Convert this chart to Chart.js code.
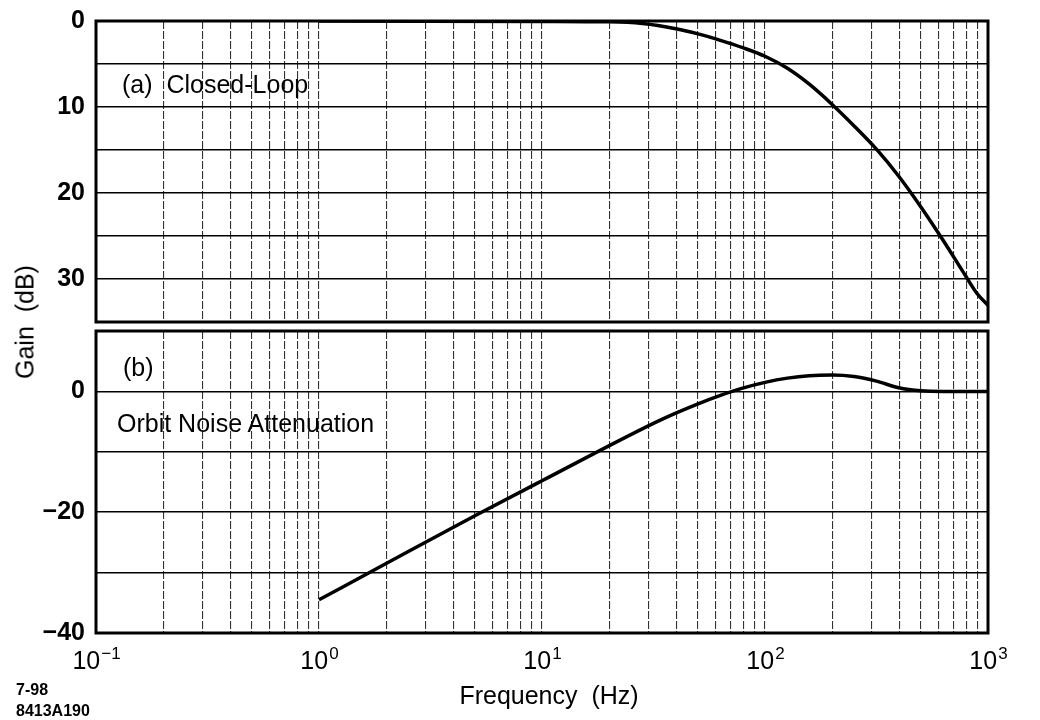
<!DOCTYPE html>
<html>
<head>
<meta charset="utf-8">
<title>Closed-Loop Gain and Orbit Noise Attenuation</title>
<script src="https://cdn.jsdelivr.net/npm/chart.js@4/dist/chart.umd.min.js"></script>
<style>
  html, body { margin: 0; padding: 0; background: #fff; }
  #wrap { position: relative; width: 1040px; height: 720px; overflow: hidden;
          font-family: "Liberation Sans", Arial, Helvetica, sans-serif; color: #000; }
  canvas { position: absolute; left: 0; }
  #cTop { top: 0; }
  #cBot { top: 326px; }
  .lbl { position: absolute; white-space: pre; line-height: 25px; font-size: 25px; z-index: 2; }
  .small { position: absolute; white-space: pre; font-size: 16px; font-weight: bold; line-height: 16px; }
</style>
</head>
<body>
<div id="wrap">
  <canvas id="cTop" width="1040" height="326"></canvas>
  <canvas id="cBot" width="1040" height="394"></canvas>
  <div class="lbl" style="left:122px; top:72px;">(a)  Closed-Loop</div>
  <div class="lbl" style="left:123px; top:355px;">(b)</div>
  <div class="lbl" style="left:117px; top:411px;">Orbit Noise Attenuation</div>
  <div class="lbl" style="left:25px; top:322px; transform: translate(-50%,-50%) rotate(-90deg);">Gain  (dB)</div>
  <div class="lbl" style="left:549px; top:683px; transform: translateX(-50%);">Frequency  (Hz)</div>
  <div class="small" style="left:16px; top:682px;">7-98</div>
  <div class="small" style="left:16px; top:703px;">8413A190</div>
</div>
<script>
// Frequency axis (Hz)
const freqMin = 0.1;
const freqMax = 1000;
const decadeExponents = [-1, 0, 1, 2, 3];

// (a) closed-loop response, dB below 0 (axis runs downward)
const freqClosedLoop = [1, 3, 10, 20, 28.2, 39.8, 50.1, 63.1, 79.4, 100, 126, 158, 200, 251, 316, 398, 501, 631, 794, 891, 1000];
const gainClosedLoop = [0, 0.02, 0.05, 0.1, 0.3, 0.9, 1.5, 2.25, 3.1, 4.1, 5.5, 7.35, 9.7, 12.2, 14.9, 18.05, 21.65, 25.55, 29.65, 31.65, 33.05];

// (b) orbit noise attenuation, dB
const freqNoiseAtten = [1, 2, 5, 10, 31.6, 39.8, 50.1, 63.1, 79.4, 100, 126, 158, 200, 251, 316, 398, 501, 631, 1000];
const gainNoiseAtten = [-34.5, -28.5, -20.6, -14.8, -5.3, -3.6, -2.05, -0.65, 0.55, 1.5, 2.2, 2.6, 2.7, 2.45, 1.7, 0.6, 0.1, 0, 0];

// Y axis ticks
const topTicks = [0, 5, 10, 15, 20, 25, 30, 35];
const topLabels = [0, 10, 20, 30];
const botTicks = [-40, -30, -20, -10, 0, 10];
const botLabels = [-40, -20, 0];

const FONT = '"Liberation Sans", Arial, Helvetica, sans-serif';

// 1..9 in every decade for the log grid
function logGridValues() {
  const vals = [];
  for (let e = -1; e < 3; e++) {
    for (let m = 1; m <= 9; m++) vals.push(+(m * Math.pow(10, e)).toPrecision(3));
  }
  vals.push(freqMax);
  return vals;
}
const xGrid = logGridValues();

function points(xs, ys) { return xs.map((x, i) => ({ x: x, y: ys[i] })); }

function noPadding(s) {
  s.paddingTop = 0; s.paddingBottom = 0; s.paddingLeft = 0; s.paddingRight = 0;
}

const framePlugin = {
  id: 'frame',
  afterDatasetsDraw(chart) {
    const { ctx, chartArea: a } = chart;
    ctx.save();
    ctx.strokeStyle = '#000';
    ctx.lineWidth = 3;
    ctx.strokeRect(a.left, a.top, a.right - a.left, a.bottom - a.top);
    ctx.restore();
  }
};

// "10" with a raised exponent under each decade
const decadeLabelPlugin = {
  id: 'decadeLabels',
  afterDraw(chart) {
    const ctx = chart.ctx;
    const xs = chart.scales.x;
    const y0 = chart.chartArea.bottom + 36;
    ctx.save();
    ctx.fillStyle = '#000';
    ctx.textBaseline = 'alphabetic';
    ctx.textAlign = 'left';
    decadeExponents.forEach(e => {
      const px = xs.getPixelForValue(Math.pow(10, e));
      const base = '10';
      const sup = e < 0 ? '\u2212' + Math.abs(e) : String(e);
      ctx.font = '25px ' + FONT;
      const w1 = ctx.measureText(base).width;
      ctx.font = '17px ' + FONT;
      const w2 = ctx.measureText(sup).width;
      const start = px - (w1 + w2) / 2;
      ctx.font = '25px ' + FONT;
      ctx.fillText(base, start, y0);
      ctx.font = '17px ' + FONT;
      ctx.fillText(sup, start + w1 + 1, y0 - 10);
    });
    ctx.restore();
  }
};

function xScale(hide) {
  return {
    type: 'logarithmic',
    min: freqMin,
    max: freqMax,
    afterBuildTicks: s => { s.ticks = xGrid.map(v => ({ value: v })); },
    ticks: { display: false, autoSkip: false },
    grid: { drawTicks: false, color: 'rgba(0,0,0,0.8)', lineWidth: 1.1 },
    border: { display: false, dash: [8, 2] },
    afterFit: s => { s.height = hide ? 0 : 87; noPadding(s); }
  };
}

function yScale(opts) {
  return {
    type: 'linear',
    min: opts.min,
    max: opts.max,
    reverse: !!opts.reverse,
    afterBuildTicks: s => { s.ticks = opts.ticks.map(v => ({ value: v })); },
    ticks: {
      autoSkip: false,
      padding: 11,
      color: '#000',
      font: { family: FONT, size: 25, weight: 'bold' },
      callback: v => opts.labels.includes(v) ? (v < 0 ? '\u2212' + Math.abs(v) : String(v)) : ''
    },
    grid: { drawTicks: false, color: '#000', lineWidth: 1.6 },
    border: { display: false },
    afterFit: s => { s.width = 96; noPadding(s); }
  };
}

function lineDataset(xs, ys) {
  return {
    data: points(xs, ys),
    borderColor: '#000',
    borderWidth: 3.5,
    pointRadius: 0,
    fill: false,
    cubicInterpolationMode: 'monotone'
  };
}

const common = {
  responsive: false,
  animation: false,
  events: [],
  plugins: { legend: { display: false }, tooltip: { enabled: false } }
};

new Chart(document.getElementById('cTop'), {
  type: 'line',
  data: { datasets: [lineDataset(freqClosedLoop, gainClosedLoop)] },
  options: Object.assign({}, common, {
    layout: { padding: { top: 21, right: 52, bottom: 4, left: 0 } },
    scales: {
      x: xScale(true),
      y: yScale({ min: 0, max: 35, reverse: true, ticks: topTicks, labels: topLabels })
    }
  }),
  plugins: [framePlugin]
});

new Chart(document.getElementById('cBot'), {
  type: 'line',
  data: { datasets: [lineDataset(freqNoiseAtten, gainNoiseAtten)] },
  options: Object.assign({}, common, {
    layout: { padding: { top: 5, right: 52, bottom: 0, left: 0 } },
    scales: {
      x: xScale(false),
      y: yScale({ min: -40, max: 10, ticks: botTicks, labels: botLabels })
    }
  }),
  plugins: [framePlugin, decadeLabelPlugin]
});
</script>
</body>
</html>
